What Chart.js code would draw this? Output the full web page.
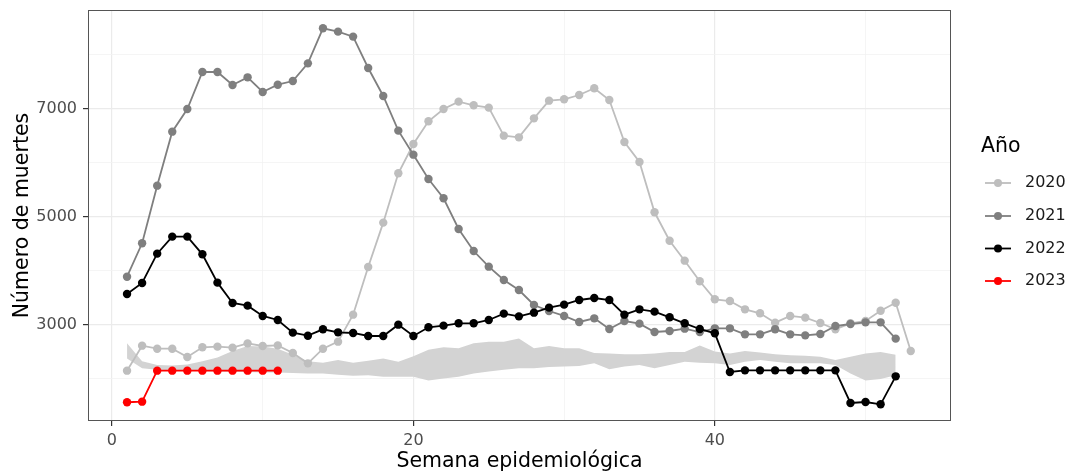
<!DOCTYPE html>
<html><head><meta charset="utf-8">
<script src="https://cdn.jsdelivr.net/npm/chart.js@4"></script>
<style>html,body{margin:0;padding:0;background:#fff;overflow:hidden}#wrap{width:1076px;height:473px}</style>
</head><body><div id="wrap"><canvas id="c" width="1076" height="473"></canvas></div>
<script>
const semanas = [1,2,3,4,5,6,7,8,9,10,11,12,13,14,15,16,17,18,19,20,21,22,23,24,25,26,27,28,29,30,31,32,33,34,35,36,37,38,39,40,41,42,43,44,45,46,47,48,49,50,51,52,53];
const anios = ['2020','2021','2022','2023'];
const muertes2020 = [2154,2617,2561,2561,2407,2587,2599,2580,2660,2611,2623,2481,2290,2561,2691,3191,4074,4895,5809,6352,6772,7000,7136,7068,7025,6506,6475,6827,7154,7179,7259,7383,7167,6389,6019,5087,4561,4191,3809,3476,3444,3290,3216,3043,3167,3136,3037,2920,3031,3074,3265,3413,2519];
const muertes2021 = [3894,4513,5580,6580,7000,7685,7685,7444,7586,7315,7450,7518,7845,8494,8432,8340,7759,7241,6599,6154,5704,5346,4778,4370,4080,3833,3648,3370,3259,3167,3056,3123,2926,3074,3025,2870,2889,2932,2870,2938,2938,2827,2827,2920,2827,2808,2833,2981,3018,3049,3049,2747];
const muertes2022 = [3574,3778,4321,4636,4636,4309,3784,3407,3358,3167,3093,2858,2802,2920,2864,2852,2796,2796,3006,2796,2957,2988,3031,3031,3093,3210,3160,3228,3321,3377,3463,3500,3463,3191,3290,3247,3142,3031,2926,2846,2130,2160,2160,2160,2160,2160,2160,2160,1556,1574,1531,2049];
const muertes2023 = [1569,1580,2154,2154,2154,2154,2154,2154,2154,2154,2154];
const bandaInferior = [2380,2200,2170,2160,2160,2150,2140,2130,2130,2120,2120,2110,2100,2100,2080,2060,2070,2040,2040,2040,1970,2010,2040,2100,2140,2170,2200,2200,2220,2230,2240,2290,2180,2230,2260,2200,2260,2320,2300,2290,2260,2320,2350,2320,2290,2290,2290,2260,2100,1970,2000,2070];
const bandaSuperior = [2660,2330,2260,2250,2270,2330,2400,2520,2610,2600,2560,2450,2330,2300,2350,2300,2340,2380,2320,2420,2540,2590,2570,2660,2690,2690,2750,2570,2610,2570,2570,2480,2470,2460,2460,2470,2500,2500,2620,2510,2470,2520,2490,2460,2440,2430,2410,2350,2410,2470,2500,2450];
const xTicks = [0,10,20,30,40,50];
const xTickLabels = ['0','','20','','40',''];
const xMajor = [0,20,40];
const yTicks = [2000,3000,4000,5000,6000,7000,8000];
const yTickLabels = ['','3000','','5000','','7000',''];
const yMajor = [3000,5000,7000];
const colores = ['#bebebe','#7f7f7f','#000000','#ff0000'];

const FONT = 'DejaVu Sans';
const xy = vals => vals.map((v,i)=>({x:semanas[i], y:v}));
const series = [muertes2020, muertes2021, muertes2022, muertes2023];

const datasets = [
  {label:'inf', data:xy(bandaInferior), pointRadius:0, borderWidth:0, borderColor:'rgba(0,0,0,0)', fill:false, order:20},
  {label:'sup', data:xy(bandaSuperior), pointRadius:0, borderWidth:0, borderColor:'rgba(0,0,0,0)', backgroundColor:'#d3d3d3', fill:'-1', order:19}
];
series.forEach((s,i)=>datasets.push({
  label:anios[i], data:xy(s), borderColor:colores[i], backgroundColor:colores[i],
  pointBackgroundColor:colores[i], pointBorderColor:colores[i], pointRadius:4.2, pointBorderWidth:0,
  borderWidth:1.8, fill:false, order:10-i, tension:0
}));

const frame = {
  id:'frame',
  afterDatasetsDraw(chart){
    const {ctx, chartArea:a} = chart;
    ctx.save(); ctx.strokeStyle='#555'; ctx.lineWidth=1;
    ctx.strokeRect(a.left+0.5, a.top+0.5, a.right-a.left-1, a.bottom-a.top-1);
    ctx.restore();
  }
};
const leyenda = {
  id:'leyenda',
  afterDraw(chart){
    const ctx = chart.ctx;
    ctx.save();
    ctx.fillStyle='#000'; ctx.textAlign='left'; ctx.textBaseline='middle';
    ctx.font = '20.5px "'+FONT+'"';
    ctx.fillText('Año', 981, 147);
    const ys = [183,216,248.5,281];
    ctx.font = '16px "'+FONT+'"';
    anios.forEach((a,i)=>{
      ctx.strokeStyle=colores[i]; ctx.lineWidth=1.8;
      ctx.beginPath(); ctx.moveTo(985, ys[i]); ctx.lineTo(1011, ys[i]); ctx.stroke();
      ctx.fillStyle=colores[i]; ctx.beginPath(); ctx.arc(998, ys[i], 4, 0, Math.PI*2); ctx.fill();
      ctx.fillStyle='#1a1a1a'; ctx.fillText(a, 1025, ys[i]);
    });
    ctx.restore();
  }
};

new Chart(document.getElementById('c'), {
  type:'line',
  data:{datasets},
  plugins:[frame, leyenda],
  options:{
    responsive:false, animation:false, devicePixelRatio:1,
    layout:{padding:{left:0,right:125,top:10,bottom:0}},
    plugins:{legend:{display:false}, tooltip:{enabled:false}, filler:{propagate:false}},
    scales:{
      x:{type:'linear', min:-1.59, max:55.67,
        afterBuildTicks:s=>{s.ticks = xTicks.map(v=>({value:v}));},
        afterFit:s=>{s.height=52; s.paddingLeft=0; s.paddingRight=0;},
        ticks:{autoSkip:false, maxRotation:0, padding:5, color:'#4d4d4d', font:{family:FONT,size:16},
          callback:(v)=>xTickLabels[xTicks.indexOf(v)]},
        grid:{color:c=>xMajor.includes(c.tick.value)?'#ebebeb':'#f2f2f2', lineWidth:c=>xMajor.includes(c.tick.value)?1.2:0.8,
          tickColor:c=>xMajor.includes(c.tick.value)?'#333':'rgba(0,0,0,0)', tickLength:5},
        border:{display:false},
        title:{display:true, text:'Semana epidemiológica', color:'#000', font:{family:FONT,size:20.5,lineHeight:1}, padding:{top:0,bottom:1}}
      },
      y:{type:'linear', min:1222, max:8833,
        afterBuildTicks:s=>{s.ticks = yTicks.map(v=>({value:v}));},
        afterFit:s=>{s.width=88; s.paddingTop=0; s.paddingBottom=0;},
        ticks:{autoSkip:false, padding:6, color:'#4d4d4d', font:{family:FONT,size:16},
          callback:(v)=>yTickLabels[yTicks.indexOf(v)]},
        grid:{color:c=>yMajor.includes(c.tick.value)?'#ebebeb':'#f2f2f2', lineWidth:c=>yMajor.includes(c.tick.value)?1.2:0.8,
          tickColor:c=>yMajor.includes(c.tick.value)?'#333':'rgba(0,0,0,0)', tickLength:5},
        border:{display:false},
        title:{display:true, text:'Número de muertes', color:'#000', font:{family:FONT,size:20.5,lineHeight:1}, padding:{top:12,bottom:0}}
      }
    }
  }
});
</script></body></html>
